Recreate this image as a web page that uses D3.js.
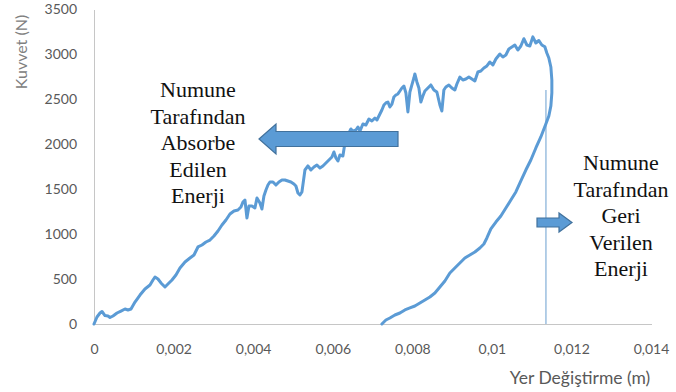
<!DOCTYPE html>
<html>
<head>
<meta charset="utf-8">
<script src="https://cdn.jsdelivr.net/npm/d3@7"></script>
<style>
  html, body { margin: 0; padding: 0; background: #ffffff; }
  svg { display: block; }
</style>
</head>
<body>
<svg id="chart" width="676" height="392"></svg>
<script>
// Displacement (m) and force (N) along the test: loading branch up to the peak, then unloading back to zero force
const yerDegistirme = [
  0, 0.000075, 0.000151, 0.000201, 0.000276, 0.000352, 0.000402, 0.000477, 0.000578, 0.000678,
  0.000779, 0.000854, 0.00093, 0.00103, 0.001156, 0.001281, 0.001407, 0.001482, 0.001533, 0.001608,
  0.001683, 0.001784, 0.001859, 0.00196, 0.00206, 0.002161, 0.002287, 0.002412, 0.002513, 0.002613,
  0.002714, 0.002814, 0.002915, 0.003015, 0.003116, 0.003216, 0.003317, 0.003417, 0.003518, 0.003618,
  0.003694, 0.003744, 0.003794, 0.003844, 0.003895, 0.00397, 0.004045, 0.004096, 0.004171, 0.004221,
  0.004271, 0.004322, 0.004372, 0.004422, 0.004498, 0.004573, 0.004648, 0.004724, 0.004799, 0.004874,
  0.00495, 0.005025, 0.005075, 0.005126, 0.005176, 0.005226, 0.005302, 0.005377, 0.005452, 0.005528,
  0.005603, 0.005678, 0.005754, 0.005829, 0.005905, 0.00598, 0.00603, 0.006081, 0.006131, 0.006181,
  0.006256, 0.006307, 0.006357, 0.006407, 0.006457, 0.006508, 0.006583, 0.006633, 0.006684, 0.006759,
  0.006834, 0.00691, 0.006985, 0.00706, 0.007111, 0.007186, 0.007236, 0.007287, 0.007337, 0.007387,
  0.007437, 0.007488, 0.007538, 0.007588, 0.007638, 0.007689, 0.007739, 0.007789, 0.00784, 0.00789,
  0.00794, 0.00799, 0.00804, 0.008065, 0.008116, 0.008166, 0.008216, 0.008266, 0.008317, 0.008392,
  0.008467, 0.008543, 0.008618, 0.008694, 0.008744, 0.008794, 0.008844, 0.00892, 0.008995, 0.00907,
  0.009121, 0.009196, 0.009272, 0.009347, 0.009422, 0.009498, 0.009573, 0.009649, 0.009724, 0.009799,
  0.009875, 0.00995, 0.010025, 0.010101, 0.010201, 0.010277, 0.010352, 0.010427, 0.010503, 0.010578,
  0.010653, 0.010729, 0.010804, 0.01088, 0.010955, 0.01103, 0.011106, 0.011181, 0.011256, 0.011332,
  0.011382, 0.011432, 0.011483, 0.011508, 0.011508, 0.011483,
  0.011432, 0.011357, 0.011231, 0.011106, 0.01098, 0.010854, 0.010729, 0.010603, 0.010478, 0.010352,
  0.010226, 0.010101, 0.009975, 0.009875, 0.009799, 0.009699, 0.009573, 0.009447, 0.009322, 0.009196,
  0.00907, 0.008945, 0.008819, 0.008694, 0.008568, 0.008442, 0.008317, 0.008191, 0.008065, 0.00794,
  0.007814, 0.007689, 0.007563, 0.007437, 0.007337, 0.007236
];
const kuvvet = [
  0, 78, 122, 139, 94, 89, 72, 89, 122, 144,
  167, 156, 167, 244, 322, 389, 433, 489, 522, 500,
  456, 411, 444, 489, 544, 622, 689, 733, 767, 856,
  878, 911, 933, 978, 1033, 1100, 1156, 1222, 1256, 1267,
  1300, 1356, 1378, 1178, 1311, 1311, 1289, 1400, 1344, 1278,
  1422, 1489, 1544, 1578, 1578, 1544, 1578, 1600, 1600, 1589,
  1578, 1556, 1533, 1456, 1433, 1467, 1711, 1756, 1711, 1744,
  1767, 1733, 1756, 1789, 1822, 1856, 1911, 1844, 1811, 1878,
  1867, 2011, 2078, 2122, 2167, 2144, 2156, 2189, 2144, 2222,
  2211, 2278, 2256, 2289, 2267, 2333, 2378, 2433, 2456, 2467,
  2411, 2444, 2522, 2544, 2556, 2589, 2622, 2644, 2567, 2356,
  2578, 2656, 2733, 2778, 2689, 2622, 2467, 2533, 2589, 2622,
  2656, 2600, 2578, 2433, 2367, 2600, 2633, 2656, 2622, 2600,
  2667, 2744, 2711, 2722, 2744, 2722, 2700, 2800, 2811, 2844,
  2867, 2911, 2878, 2944, 3000, 2967, 2989, 3056, 3078, 3100,
  3044, 3089, 3170, 3100, 3089, 3190, 3122, 3150, 3100, 3080,
  3011, 2956, 2856, 2711, 2567, 2422,
  2311, 2222, 2078, 1956, 1822, 1711, 1589, 1467, 1378, 1289,
  1200, 1133, 1056, 956, 889, 844, 800, 767, 733, 678,
  622, 567, 478, 411, 344, 300, 267, 233, 200, 178,
  156, 122, 100, 67, 44, 0
];

// Thin drop line at the maximum displacement
const dusumX = [0.01136, 0.01136];
const dusumY = [2600, 0];

// Axis ticks
const xTicks = [0, 0.002, 0.004, 0.006, 0.008, 0.01, 0.012, 0.014];
const xTickLabels = ["0", "0,002", "0,004", "0,006", "0,008", "0,01", "0,012", "0,014"];
const yTicks = [0, 500, 1000, 1500, 2000, 2500, 3000, 3500];
const yTickLabels = ["0", "500", "1000", "1500", "2000", "2500", "3000", "3500"];

// Annotation texts
const solMetin = ["Numune", "Tarafından", "Absorbe", "Edilen", "Enerji"];
const sagMetin = ["Numune", "Tarafından", "Geri", "Verilen", "Enerji"];

const svg = d3.select("#chart");
const x = d3.scaleLinear().domain([0, 0.014]).range([94, 651]);
const y = d3.scaleLinear().domain([0, 3500]).range([324, 9]);

const axisColor = "#c6c6c6";
const tickColor = "#595959";
const lineColor = "#5b9bd5";
const serifFont = "'Times New Roman', Tinos, 'Liberation Serif', 'DejaVu Serif', 'Noto Serif', serif";

// Axes
const gx = svg.append("g").attr("transform", "translate(0,324)")
  .call(d3.axisBottom(x).tickValues(xTicks).tickSize(0).tickPadding(20)
    .tickFormat((d, i) => xTickLabels[i]));
gx.select(".domain").attr("stroke", axisColor).attr("stroke-width", 1).attr("d", "M94,0.5H652");
gx.selectAll("text").attr("fill", tickColor).attr("font-family", "Lato, 'Open Sans', sans-serif")
  .attr("font-size", 14);

const gy = svg.append("g").attr("transform", "translate(94,0)")
  .call(d3.axisLeft(y).tickValues(yTicks).tickSize(0).tickPadding(17)
    .tickFormat((d, i) => yTickLabels[i]));
gy.select(".domain").attr("stroke", axisColor).attr("stroke-width", 1).attr("d", "M0.5,10V324");
gy.selectAll("text").attr("fill", tickColor).attr("font-family", "Lato, 'Open Sans', sans-serif")
  .attr("font-size", 14);

// Axis titles
svg.append("text")
  .attr("transform", "translate(27,52) rotate(-90)")
  .attr("text-anchor", "middle")
  .attr("fill", "#808080")
  .attr("font-family", "Lato, 'Open Sans', sans-serif")
  .attr("font-size", 16)
  .text("Kuvvet (N)");

svg.append("text")
  .attr("x", 580).attr("y", 384)
  .attr("text-anchor", "middle")
  .attr("fill", "#595959")
  .attr("font-family", "Lato, 'Open Sans', sans-serif")
  .attr("font-size", 17.5)
  .text("Yer Değiştirme (m)");

// Drop line
svg.append("line")
  .attr("x1", x(dusumX[0])).attr("y1", y(dusumY[0]))
  .attr("x2", x(dusumX[1])).attr("y2", y(dusumY[1]))
  .attr("stroke", "#6a9fcf").attr("stroke-width", 1);

// Force–displacement curve
const pts = yerDegistirme.map((d, i) => [d, kuvvet[i]]);
svg.append("path")
  .datum(pts)
  .attr("fill", "none")
  .attr("stroke", lineColor)
  .attr("stroke-width", 3)
  .attr("stroke-linejoin", "round")
  .attr("stroke-linecap", "round")
  .attr("d", d3.line().x(d => x(d[0])).y(d => y(d[1])));

// Block arrows
function blockArrow(tipX, tipY, dir, bodyLen, bodyH, headLen, headH) {
  const s = dir; // -1 points left, +1 points right
  const bx = tipX - s * headLen;
  const ex = bx - s * bodyLen;
  const p = [
    [tipX, tipY],
    [bx, tipY - headH / 2],
    [bx, tipY - bodyH / 2],
    [ex, tipY - bodyH / 2],
    [ex, tipY + bodyH / 2],
    [bx, tipY + bodyH / 2],
    [bx, tipY + headH / 2]
  ];
  svg.append("path")
    .attr("d", "M" + p.map(q => q.join(",")).join("L") + "Z")
    .attr("fill", "#5b9bd5")
    .attr("stroke", "#41719c")
    .attr("stroke-width", 1.2)
    .attr("stroke-linejoin", "miter");
}
blockArrow(259, 139, -1, 122, 15, 17, 30);
blockArrow(572, 222.5, 1, 22, 9, 13, 19);

// Annotation text blocks
function textBlock(lines, cx, y0, step) {
  svg.append("g").selectAll("text").data(lines).join("text")
    .attr("x", cx)
    .attr("y", (d, i) => y0 + i * step)
    .attr("text-anchor", "middle")
    .style("font-family", serifFont)
    .style("font-size", "22px")
    .attr("fill", "#111111")
    .text(d => d);
}
textBlock(solMetin, 198, 97, 26.5);
textBlock(sagMetin, 621, 170, 26.5);
</script>
</body>
</html>
